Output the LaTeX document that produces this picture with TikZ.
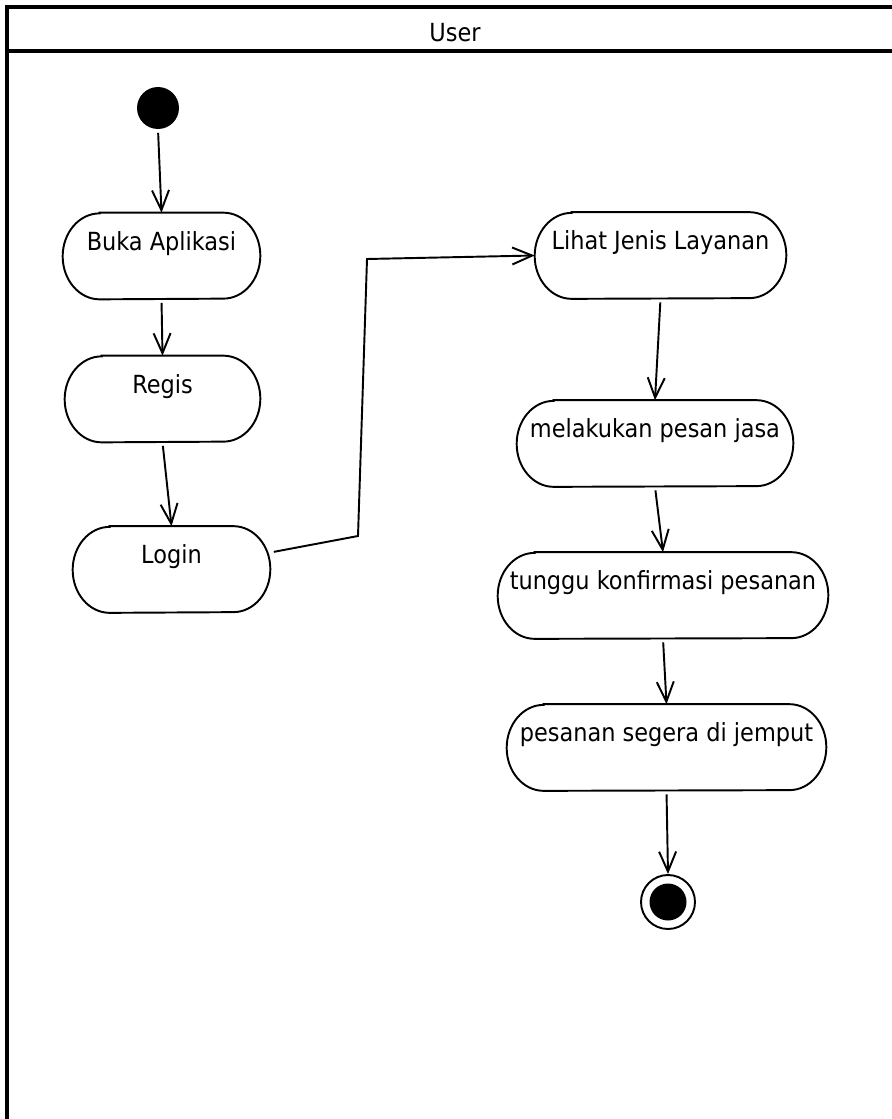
\documentclass[tikz,border=0pt]{standalone}
\usepackage{fontspec}
\setmainfont{DejaVu Sans Condensed}
\usepackage{tikz}
\usetikzlibrary{arrows.meta}

\begin{document}
\begin{tikzpicture}[x=0.02cm, y=-0.02cm,
        every node/.style={font=\fontsize{14.2}{17}\selectfont},
        activity/.style={rectangle, inner sep=0pt, text height=0.74cm,
            text depth=0.98cm, minimum height=1.72cm},
        outline/.style={line width=1.1pt},
        flow/.style={line width=1.1pt, shorten <=2pt,
            -{Straight Barb[length=0.4cm, width=0.34cm, line width=1.1pt]}}]
        \useasboundingbox (0, 0) rectangle (892, 1119);

        \draw[line width=1.8pt] (892, 7) -- (7, 7) -- (7, 1119);
        \draw[line width=1.8pt] (7, 51) -- (892, 51);
        \node (lane) at (455, 33) {User};

        \node[circle, fill=black, minimum size=0.84cm, inner sep=0pt] (start) at (158, 108) {};

        \node[activity, minimum width=3.94cm] (buka) at (161.5, 256) {Buka Aplikasi};
        \node[activity, minimum width=3.9cm] (regis) at (162.5, 399) {Regis};
        \node[activity, minimum width=3.94cm] (login) at (171.5, 569.5) {Login};
        \node[activity, minimum width=5.02cm] (lihat) at (660.5, 255.5) {Lihat Jenis Layanan};
        \node[activity, minimum width=5.52cm] (pesan) at (655, 443.5) {melakukan pesan jasa};
        \node[activity, minimum width=6.6cm] (tunggu) at (663, 595.5) {tunggu konfirmasi pesanan};
        \node[activity, minimum width=6.38cm] (jemput) at (666.5, 747.5) {pesanan segera di jemput};

        \foreach \n in {buka, regis, login, lihat, pesan, tunggu, jemput}
            \draw[outline] ([xshift=0.74cm]\n.north west) -- ([xshift=-0.74cm]\n.north east)
                arc[start angle=90, end angle=-90, x radius=0.74cm, y radius=0.86cm]
                -- ([xshift=0.74cm]\n.south west)
                arc[start angle=270, end angle=90, x radius=0.74cm, y radius=0.86cm] -- cycle;

        \node[circle, draw, line width=1.1pt, minimum size=1.08cm, inner sep=0pt] (finish) at (668, 902) {};
        \node[circle, fill=black, minimum size=0.74cm, inner sep=0pt] (finishdot) at (finish) {};

        \coordinate (k1) at (358, 536);
        \coordinate (k2) at (367, 259);

        \draw[flow] (start.south) -- (buka.north);
        \draw[flow] (buka.south) -- (regis.north);
        \draw[flow] (regis.south) -- (login.north);
        \draw[flow] ([yshift=0.34cm]login.east) -- (k1) -- (k2) -- (lihat.west);
        \draw[flow] (lihat.south) -- (pesan.north);
        \draw[flow] (pesan.south) -- (tunggu.north);
        \draw[flow] (tunggu.south) -- (jemput.north);
        \draw[flow] (jemput.south) -- (finish.north);
\end{tikzpicture}
\end{document}
